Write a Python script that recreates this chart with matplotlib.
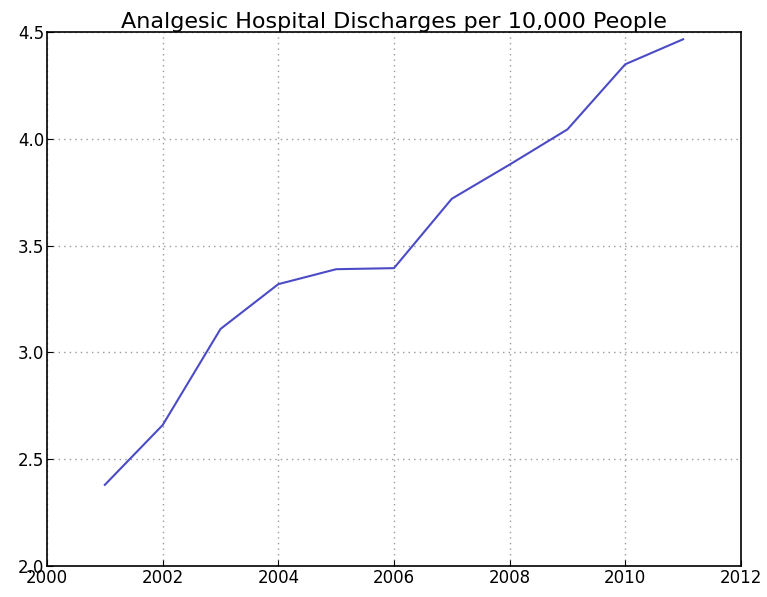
import matplotlib
matplotlib.use("Agg")
import matplotlib.pyplot as plt

years = [2001, 2002, 2003, 2004, 2005, 2006, 2007, 2008, 2009, 2010, 2011]
discharges = [2.38, 2.66, 3.11, 3.32, 3.39, 3.395, 3.72, 3.88, 4.045, 4.35, 4.467]

fig = plt.figure(figsize=(7.67, 5.97), dpi=100)
ax = fig.add_axes([0.0613, 0.052, 0.9047, 0.894])
ax.plot(years, discharges, color="#4b4bc6", linewidth=1.5)

ax.set_xlim(2000, 2012)
ax.set_ylim(2.0, 4.5)
ax.set_xticks(range(2000, 2013, 2))
ax.set_yticks([2.0, 2.5, 3.0, 3.5, 4.0, 4.5])
ax.set_yticklabels(["2.0", "2.5", "3.0", "3.5", "4.0", "4.5"])
ax.grid(True, color="#999999", linestyle=(0, (1, 3)), linewidth=1)
ax.tick_params(direction="in", length=4, labelsize=12, pad=2)
for s in ax.spines.values():
    s.set_linewidth(1.2)
ax.set_title("Analgesic Hospital Discharges per 10,000 People", fontsize=16, pad=3)

fig.savefig("out.png", dpi=100)
